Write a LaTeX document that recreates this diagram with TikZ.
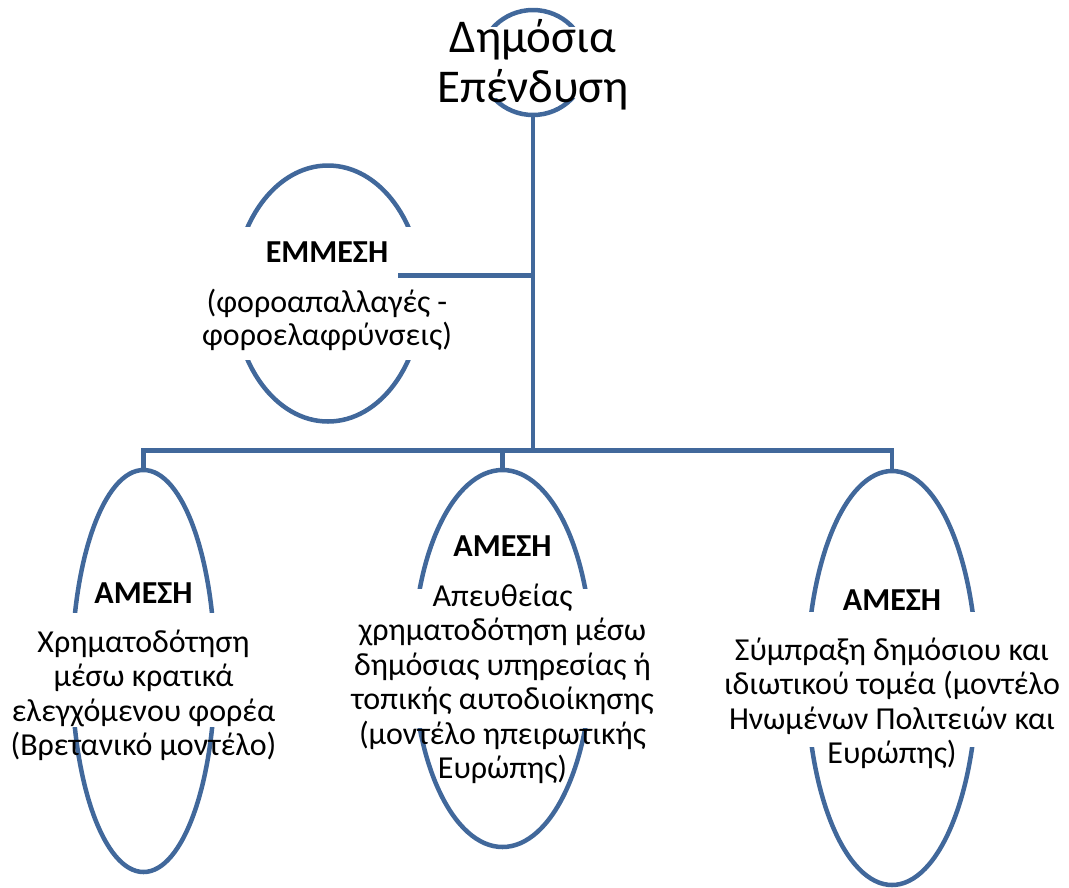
\documentclass[tikz,border=0pt]{standalone}
\usepackage{fontspec}
\setmainfont{Carlito}
\usetikzlibrary{shapes.geometric}
\definecolor{sb}{RGB}{65,104,155}
\newcommand\blocklines[1]{\vtop{\lineskiplimit=-100pt\lineskip=0pt\halign{\hfil##\hfil\cr#1\crcr}}}
\begin{document}
\begin{tikzpicture}[x=1pt,y=-1pt,
  ell/.style={ellipse, draw=sb, line width=4.5pt, inner sep=0pt, outer sep=0pt},
  con/.style={draw=sb, line width=4.5pt},
  wbox/.style={fill=white},
  txt/.style={anchor=base, inner sep=0pt, font=\fontsize{32}{34.5}\selectfont}]
\useasboundingbox (0,0) rectangle (1069,887);
% ellipses
\node[ell, minimum width=107pt, minimum height=105pt] (top) at (533,62.5) {};
\node[ell, minimum width=188pt, minimum height=256pt] (E) at (328,293.5) {};
\node[ell, minimum width=143pt, minimum height=402pt] (L) at (143.5,671) {};
\node[ell, minimum width=178pt, minimum height=377pt] (M) at (502.5,658.5) {};
\node[ell, minimum width=170pt, minimum height=414pt] (R) at (892,678) {};
% white text boxes
\fill[wbox] (468,27) rectangle (598,98);
\fill[wbox] (226,227) rectangle (430,360);
\fill[wbox] (62,613) rectangle (226,727);
\fill[wbox] (404,589) rectangle (601,728);
\fill[wbox] (798,612) rectangle (986,747);
% connectors
\coordinate (bus) at (533,450.5);
\coordinate (eb) at (398,275.5);
\draw[con] (top.south) -- (bus);
\draw[con] (L.north) |- (bus) -| (R.north);
\draw[con] (M.north) -- (M.north |- bus);
\draw[con] (eb) -- (eb -| bus);
% texts
\node[txt, font=\fontsize{47}{50}\selectfont] (tt) at (533,52)
  {\blocklines{Δημόσια\cr Επένδυση}};
\node[txt] (Et) at (327,262)
  {\blocklines{\textbf{ΕΜΜΕΣΗ}\cr\noalign{\vskip15.5pt}(φοροαπαλλαγές -\cr\noalign{\vskip-1pt}φοροελαφρύνσεις)}};
\node[txt] (Lt) at (143.5,603)
  {\blocklines{\textbf{ΑΜΕΣΗ}\cr\noalign{\vskip14.5pt}Χρηματοδότηση\cr μέσω κρατικά\cr ελεγχόμενου φορέα\cr (Βρετανικό μοντέλο)}};
\node[txt] (Mt) at (502.5,556)
  {\blocklines{\textbf{ΑΜΕΣΗ}\cr\noalign{\vskip15.5pt}Απευθείας\cr χρηματοδότηση μέσω\cr δημόσιας υπηρεσίας ή\cr τοπικής αυτοδιοίκησης\cr (μοντέλο ηπειρωτικής\cr Ευρώπης)}};
\node[txt] (Rt) at (892,610)
  {\blocklines{\textbf{ΑΜΕΣΗ}\cr\noalign{\vskip15.5pt}Σύμπραξη δημόσιου και\cr ιδιωτικού τομέα (μοντέλο\cr Ηνωμένων Πολιτειών και\cr Ευρώπης)}};
\end{tikzpicture}
\end{document}
